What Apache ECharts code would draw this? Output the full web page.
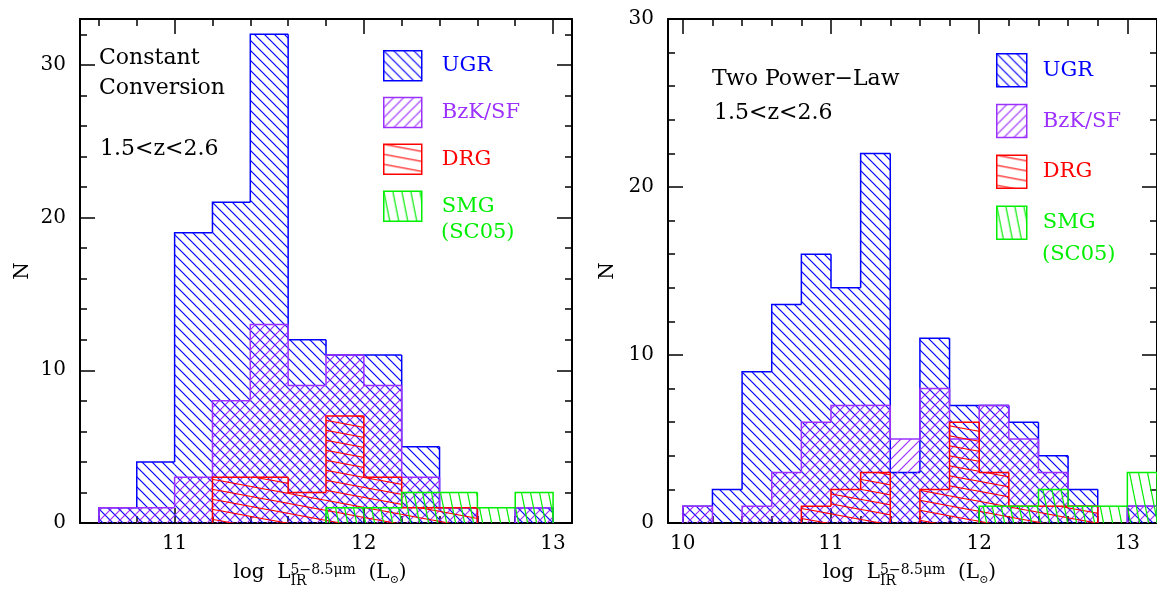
<!DOCTYPE html>
<html>
<head>
<meta charset="utf-8">
<script src="https://cdn.jsdelivr.net/npm/echarts@6/dist/echarts.min.js"></script>
<style>
html,body{margin:0;padding:0;background:#fff;}
#chart{width:1157px;height:590px;}
</style>
</head>
<body>
<div id="chart"></div>
<script>
// ---------------- data ----------------
const BIN_WIDTH = 0.2;
// Left panel: "Constant Conversion"
const binStartL = [10.6, 10.8, 11.0, 11.2, 11.4, 11.6, 11.8, 12.0, 12.2, 12.4, 12.6, 12.8];
const ugrL = [1, 4, 19, 21, 32, 12, 11, 11, 5, 1, 0, 1];
const bzkL = [1, 1, 3, 8, 13, 9, 11, 9, 3, 1, 0, 1];
const drgL = [0, 0, 0, 3, 3, 2, 7, 3, 1, 1, 0, 0];
const smgL = [0, 0, 0, 0, 0, 0, 1, 1, 2, 2, 1, 2];
// Right panel: "Two Power-Law"
const binStartR = [10.0, 10.2, 10.4, 10.6, 10.8, 11.0, 11.2, 11.4, 11.6, 11.8, 12.0, 12.2, 12.4, 12.6, 12.8, 13.0];
const ugrR = [1, 2, 9, 13, 16, 14, 22, 3, 11, 7, 7, 6, 4, 2, 0, 1];
const bzkR = [1, 0, 1, 3, 6, 7, 7, 5, 8, 5, 7, 5, 3, 1, 0, 1];
const drgR = [0, 0, 0, 0, 1, 2, 3, 0, 2, 6, 3, 1, 1, 1, 0, 0];
const smgR = [0, 0, 0, 0, 0, 0, 0, 0, 0, 0, 1, 1, 2, 1, 1, 3];
// ticks
const xMajorL = [11, 12, 13];
const xMajorR = [10, 11, 12, 13];
const yMajorL = [0, 10, 20, 30];
const yMajorR = [0, 10, 20, 30];
const seriesNames = ['UGR', 'BzK/SF', 'DRG', 'SMG'];
const smgNote = '(SC05)';

// ---------------- styles ----------------
const FONT = 'DejaVu Serif';
const COLORS = { 'UGR': '#0000ff', 'BzK/SF': '#9b30ff', 'DRG': '#ff0000', 'SMG': '#00ee00' };

function makeHatch(color, W, H, dir) {
  const c = document.createElement('canvas');
  c.width = W; c.height = H;
  const ctx = c.getContext('2d');
  ctx.strokeStyle = color;
  ctx.lineWidth = 1.2;
  for (let dx = -W; dx <= W; dx += W) {
    for (let dy = -H; dy <= H; dy += H) {
      ctx.beginPath();
      if (dir === 'down') { ctx.moveTo(dx, dy); ctx.lineTo(dx + W, dy + H); }
      else { ctx.moveTo(dx, dy + H); ctx.lineTo(dx + W, dy); }
      ctx.stroke();
    }
  }
  return { image: c, repeat: 'repeat' };
}
const PATTERNS = {
  'UGR': makeHatch(COLORS['UGR'], 10, 10, 'down'),
  'BzK/SF': makeHatch(COLORS['BzK/SF'], 10, 10, 'up'),
  'DRG': makeHatch(COLORS['DRG'], 54, 10, 'down'),
  'SMG': makeHatch(COLORS['SMG'], 9, 45, 'down')
};

function histData(bins, counts) {
  return bins.map((b, i) => [b, +(b + BIN_WIDTH).toFixed(2), counts[i]]);
}

function makeSeries(name, bins, counts, axisIdx) {
  return {
    type: 'custom',
    name: name,
    xAxisIndex: axisIdx,
    yAxisIndex: axisIdx,
    data: histData(bins, counts),
    encode: { x: [0, 1], y: 2 },
    renderItem: function (params, api) {
      const i = params.dataIndexInside;
      const n = api.value(2);
      const prev = i > 0 ? api.value(2, i - 1) : 0;
      const isLast = i === params.dataInsideLength - 1;
      const x0 = api.value(0), x1 = api.value(1);
      const children = [];
      const lineStyle = { stroke: COLORS[name], lineWidth: 1.5, fill: null };
      if (n > 0) {
        const p0 = api.coord([x0, 0]);
        const p1 = api.coord([x1, n]);
        children.push({
          type: 'rect',
          shape: { x: p0[0], y: p1[1], width: p1[0] - p0[0], height: p0[1] - p1[1] },
          style: { fill: PATTERNS[name], stroke: null }
        });
        const pts = [api.coord([x0, prev]), api.coord([x0, n]), api.coord([x1, n])];
        if (isLast) pts.push(api.coord([x1, 0]));
        children.push({ type: 'polyline', shape: { points: pts }, style: lineStyle });
      } else if (prev > 0) {
        children.push({ type: 'polyline', shape: { points: [api.coord([x0, prev]), api.coord([x0, 0])] }, style: lineStyle });
      }
      return { type: 'group', children: children };
    }
  };
}

function ticksEvery(min, max, step) {
  const out = [];
  for (let v = Math.ceil(min / step - 1e-9) * step; v <= max + 1e-9; v += step) out.push(+v.toFixed(4));
  return out;
}

function axisSet(kind, gridIndex, min, max, majors, minorStep, withLabels, nameCfg) {
  const minors = ticksEvery(min, max, minorStep);
  const base = {
    type: 'value', gridIndex: gridIndex, min: min, max: max,
    splitLine: { show: false }, minorTick: { show: false }, minorSplitLine: { show: false }
  };
  const posA = kind === 'x' ? 'bottom' : 'left';
  const posB = kind === 'x' ? 'top' : 'right';
  const mk = (pos, vals, len, line, labels) => Object.assign({}, base, {
    position: pos,
    axisLine: { show: line, onZero: false, lineStyle: { color: '#000', width: 2 } },
    axisTick: { show: true, inside: true, customValues: vals, length: len, lineStyle: { color: '#000', width: 1.5 } },
    axisLabel: labels ? { show: true, customValues: majors, color: '#000', fontFamily: FONT, fontSize: 20, margin: kind === 'x' ? 11 : 14 } : { show: false }
  }, labels && nameCfg ? nameCfg : {});
  return [
    mk(posA, majors, 15, true, withLabels),
    mk(posB, majors, 15, true, false),
    mk(posA, minors, 7, false, false),
    mk(posB, minors, 7, false, false)
  ];
}

const gridL = { left: 80, top: 19, width: 492, height: 504 };
const gridR = { left: 668, top: 19, width: 495, height: 504 };

const xAxes = [].concat(
  axisSet('x', 0, 10.5, 13.1, xMajorL, 0.2, true, null),
  axisSet('x', 1, 9.9, 13.2, xMajorR, 0.2, true, null)
);
const yName = (gap) => ({ name: 'N', nameLocation: 'middle', nameGap: gap, nameRotate: 90,
  nameTextStyle: { color: '#000', fontFamily: FONT, fontSize: 20 } });
const yAxes = [].concat(
  axisSet('y', 0, 0, 33, yMajorL, 2, true, yName(47)),
  axisSet('y', 1, 0, 30, yMajorR, 2, true, yName(50))
);

const series = [];
[['UGR', ugrL], ['BzK/SF', bzkL], ['DRG', drgL], ['SMG', smgL]].forEach(([n, c]) => series.push(makeSeries(n, binStartL, c, 0)));
[['UGR', ugrR], ['BzK/SF', bzkR], ['DRG', drgR], ['SMG', smgR]].forEach(([n, c]) => series.push(makeSeries(n, binStartR, c, 4)));

function legendCfg(left, top, w, h, gap, padL) {
  return {
    orient: 'vertical', left: left, top: top, itemWidth: w, itemHeight: h, itemGap: gap,
    selectedMode: false, padding: 0,
    data: seriesNames.map((n) => ({
      name: n, icon: 'rect',
      itemStyle: { color: PATTERNS[n], borderColor: COLORS[n], borderWidth: 1.5 },
      textStyle: { color: COLORS[n], fontFamily: FONT, fontSize: 21, padding: [0, 0, 0, padL] }
    }))
  };
}

// measuring for x axis title (sub/superscript stacking)
const mctx = document.createElement('canvas').getContext('2d');
function tw(t, size) { mctx.font = size + 'px "' + FONT + '"'; return mctx.measureText(t).width; }

function xTitle(cx) {
  const pieces = [];
  const main = 20, small = 14;
  const parts = [
    { t: 'log  L', s: main, y: 572.5 },
    { stack: [{ t: '5\u22128.5\u03bcm', s: small, y: 570 }, { t: 'IR', s: small, y: 581.5 }] },
    { t: '  (L', s: main, y: 572.5 },
    { t: '\u2299', s: 11, y: 580 },
    { t: ')', s: main, y: 572.5 }
  ];
  let total = 0;
  parts.forEach(p => { p.w = p.stack ? Math.max(...p.stack.map(q => tw(q.t, q.s))) : tw(p.t, p.s); total += p.w; });
  let x = cx - total / 2;
  parts.forEach(p => {
    const list = p.stack ? p.stack : [p];
    list.forEach(q => pieces.push({
      type: 'text', x: x, y: q.y,
      style: { text: q.t, fill: '#000', fontFamily: FONT, fontSize: q.s, textAlign: 'left', verticalAlign: 'middle' }
    }));
    x += p.w;
  });
  return pieces;
}

function label(x, y, text, color, size) {
  return { type: 'text', x: x, y: y, style: { text: text, fill: color || '#000', fontFamily: FONT, fontSize: size || 22, textAlign: 'left', verticalAlign: 'middle' } };
}

const graphic = [].concat(
  xTitle(gridL.left + gridL.width / 2 - 6),
  xTitle(gridR.left + gridR.width / 2 - 6),
  [label(99, 58, 'Constant'), label(99, 88.5, 'Conversion'), label(100, 149.5, '1.5<z<2.6'),
   label(712, 79.5, 'Two Power\u2212Law'), label(714, 113, '1.5<z<2.6'),
   label(441, 233, smgNote, COLORS['SMG'], 21), label(1042, 254.5, smgNote, COLORS['SMG'], 21)]
);

const chart = echarts.init(document.getElementById('chart'), null, { renderer: 'canvas' });
chart.setOption({
  backgroundColor: '#fff',
  animation: false,
  grid: [gridL, gridR],
  xAxis: xAxes,
  yAxis: yAxes,
  legend: [legendCfg(383, 50, 38, 30, 15.3, 15), legendCfg(996, 53, 30, 33, 16.3, 11)],
  series: series,
  graphic: graphic
});
</script>
</body>
</html>
